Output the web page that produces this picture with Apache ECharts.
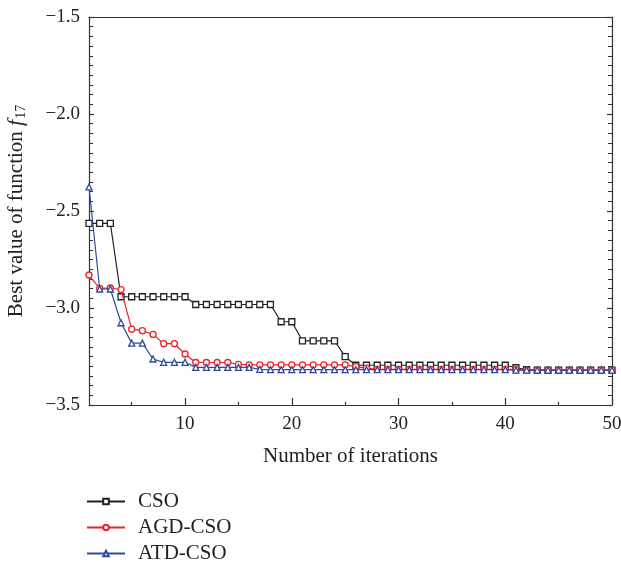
<!DOCTYPE html>
<html>
<head>
<meta charset="utf-8">
<script src="https://cdn.jsdelivr.net/npm/echarts@6/dist/echarts.min.js"></script>
<style>html,body{margin:0;padding:0;background:#fff}#c{width:621px;height:566px}</style>
</head>
<body>
<div id="c"></div>
<script>
const iterations = Array.from({length: 50}, (_, i) => i + 1);
const csoValues = [-2.564, -2.564, -2.564, -2.942, -2.942, -2.942, -2.942, -2.942, -2.942, -2.942,
  -2.982, -2.982, -2.982, -2.982, -2.982, -2.982, -2.982, -2.982, -3.071, -3.071,
  -3.169, -3.169, -3.169, -3.169, -3.251, -3.295, -3.295, -3.295, -3.295, -3.295,
  -3.295, -3.295, -3.295, -3.295, -3.295, -3.295, -3.295, -3.295, -3.295, -3.295,
  -3.308, -3.318, -3.32, -3.32, -3.32, -3.32, -3.32, -3.32, -3.32, -3.32];
const agdValues = [-2.83, -2.899, -2.897, -2.905, -3.109, -3.117, -3.136, -3.184, -3.184, -3.237,
  -3.281, -3.281, -3.281, -3.281, -3.291, -3.293, -3.293, -3.293, -3.293, -3.293,
  -3.293, -3.293, -3.293, -3.293, -3.293, -3.302, -3.31, -3.316, -3.316, -3.316,
  -3.316, -3.316, -3.316, -3.316, -3.316, -3.316, -3.316, -3.316, -3.316, -3.316,
  -3.318, -3.32, -3.32, -3.32, -3.32, -3.32, -3.32, -3.32, -3.32, -3.32];
const atdValues = [-2.376, -2.902, -2.902, -3.076, -3.181, -3.181, -3.263, -3.28, -3.28, -3.28,
  -3.306, -3.306, -3.306, -3.306, -3.306, -3.306, -3.316, -3.318, -3.318, -3.318,
  -3.318, -3.318, -3.318, -3.318, -3.318, -3.318, -3.318, -3.318, -3.318, -3.318,
  -3.318, -3.318, -3.318, -3.318, -3.318, -3.318, -3.318, -3.318, -3.318, -3.318,
  -3.32, -3.32, -3.32, -3.32, -3.32, -3.32, -3.32, -3.32, -3.32, -3.32];
const xTickValues = [10, 20, 30, 40, 50];
const xMinorTickValues = [5, 15, 25, 35, 45];
const seriesNames = ['CSO', 'AGD-CSO', 'ATD-CSO'];

const FONT = '"Liberation Serif", "DejaVu Serif", serif';
const AXC = '#333';
const fmtY = v => (v < 0 ? '\u2212' : '') + Math.abs(v).toFixed(1);
const gridRect = {left: 89, top: 17, right: 9, bottom: 161, containLabel: false, outerBoundsMode: 'none'};

function pairs(vals) { return iterations.map((x, i) => [x, vals[i]]); }

const chart = echarts.init(document.getElementById('c'), null, {renderer: 'canvas'});
chart.setOption({
  animation: false,
  backgroundColor: '#fff',
  grid: [Object.assign({}, gridRect), Object.assign({}, gridRect)],
  xAxis: [
    {type: 'value', gridIndex: 0, position: 'bottom', min: 1, max: 50,
     axisLine: {show: true, lineStyle: {color: AXC, width: 1.2}},
     axisTick: {show: true, inside: true, length: 7, customValues: xTickValues, lineStyle: {color: AXC, width: 1.2}},
     axisLabel: {show: true, customValues: xTickValues, color: '#222', fontFamily: FONT, fontSize: 19, margin: 10},
     splitLine: {show: false},
     name: 'Number of iterations', nameLocation: 'middle', nameGap: 41,
     nameTextStyle: {color: '#222', fontFamily: FONT, fontSize: 21}},
    {type: 'value', gridIndex: 1, position: 'bottom', min: 1, max: 50,
     axisLine: {show: false},
     axisTick: {show: true, inside: true, length: 3, customValues: xMinorTickValues, lineStyle: {color: AXC, width: 1.2}},
     axisLabel: {show: false}, splitLine: {show: false}},
    {type: 'value', gridIndex: 0, position: 'top', min: 1, max: 50,
     axisLine: {show: true, lineStyle: {color: AXC, width: 1.2}},
     axisTick: {show: false}, axisLabel: {show: false}, splitLine: {show: false}}
  ],
  yAxis: [
    {type: 'value', gridIndex: 0, position: 'left', min: -3.5, max: -1.5, interval: 0.5,
     axisLine: {show: true, lineStyle: {color: AXC, width: 1.2}},
     axisTick: {show: true, inside: true, length: 5, lineStyle: {color: AXC, width: 1.2}},
     minorTick: {show: true, splitNumber: 10, length: 4, lineStyle: {color: AXC, width: 1}},
     axisLabel: {show: true, formatter: fmtY, color: '#222', fontFamily: FONT, fontSize: 19, margin: 9},
     splitLine: {show: false},
     name: '{a|Best value of function }{i|f}{s|17}', nameLocation: 'middle', nameGap: 61,
     nameTextStyle: {color: '#222', fontFamily: FONT, fontSize: 20,
       rich: {a: {fontFamily: FONT, fontSize: 21, color: '#222'},
              i: {fontFamily: FONT, fontSize: 22, fontStyle: 'italic', color: '#222'},
              s: {fontFamily: FONT, fontSize: 14, color: '#222', padding: [10, 0, 0, 1]}}}},
    {type: 'value', gridIndex: 0, position: 'right', min: -3.5, max: -1.5, interval: 0.5,
     axisLine: {show: true, lineStyle: {color: AXC, width: 1.2}},
     axisTick: {show: true, inside: true, length: 5, lineStyle: {color: AXC, width: 1.2}},
     minorTick: {show: true, splitNumber: 10, length: 4, lineStyle: {color: AXC, width: 1}},
     axisLabel: {show: false}, splitLine: {show: false}},
    {type: 'value', gridIndex: 1, min: -3.5, max: -1.5, show: false}
  ],
  legend: {
    orient: 'vertical', left: 86, top: 491, height: 90, padding: 0, itemWidth: 38, itemHeight: 7, itemGap: 5,
    textStyle: {color: '#222', fontFamily: FONT, fontSize: 21, lineHeight: 21, padding: [0, 0, 0, 8]},
    data: seriesNames
  },
  series: [
    {name: seriesNames[0], type: 'line', xAxisIndex: 0, yAxisIndex: 0, data: pairs(csoValues),
     symbol: 'rect', symbolSize: 6, lineStyle: {color: '#222', width: 1.2, type: 'solid'},
     itemStyle: {color: '#fff', borderColor: '#222', borderWidth: 1.3}, z: 3},
    {name: seriesNames[1], type: 'line', xAxisIndex: 0, yAxisIndex: 0, data: pairs(agdValues),
     symbol: 'circle', symbolSize: 6, lineStyle: {color: '#ec2227', width: 1.2, type: 'solid'},
     itemStyle: {color: '#fff', borderColor: '#ec2227', borderWidth: 1.3}, z: 4},
    {name: seriesNames[2], type: 'line', xAxisIndex: 0, yAxisIndex: 0, data: pairs(atdValues),
     symbol: 'triangle', symbolSize: 6, lineStyle: {color: '#2e4a9e', width: 1.2, type: 'solid'},
     itemStyle: {color: '#fff', borderColor: '#2e4a9e', borderWidth: 1.3}, z: 5}
  ]
});
</script>
</body>
</html>
